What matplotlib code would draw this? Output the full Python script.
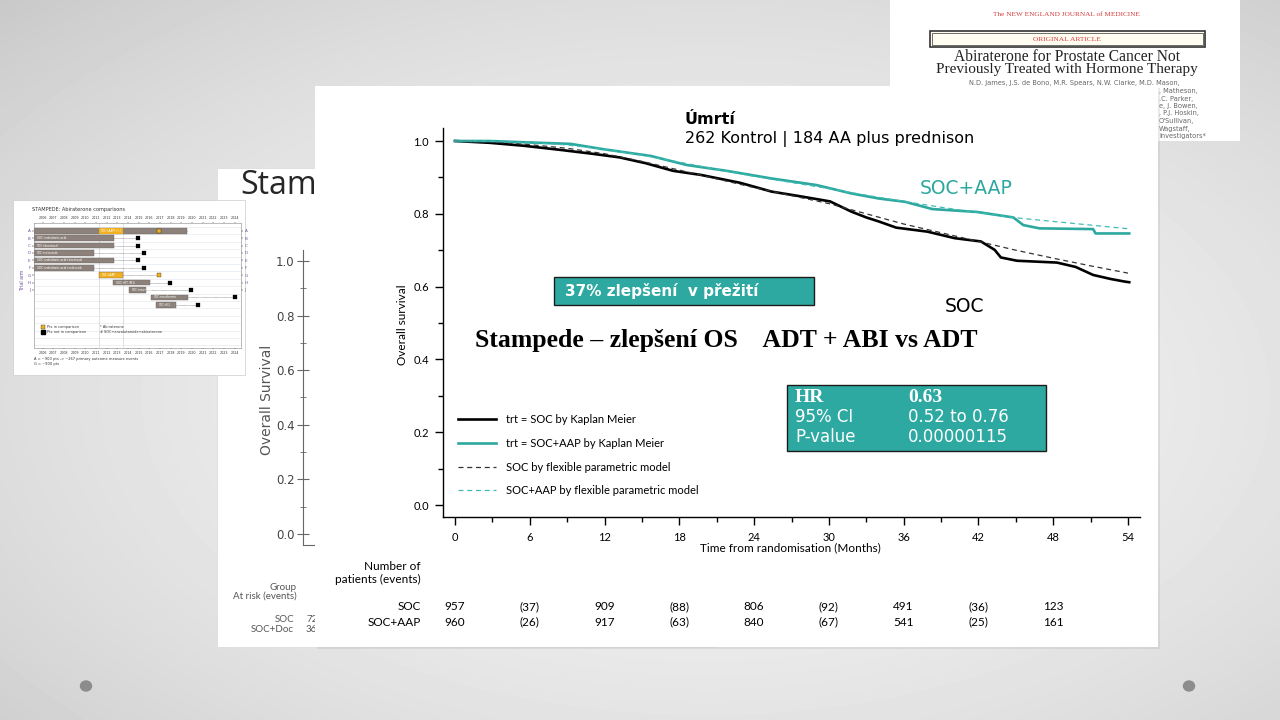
import numpy as np
import matplotlib.pyplot as plt
from matplotlib import patches
from matplotlib.ticker import MultipleLocator, FixedLocator
from matplotlib.transforms import blended_transform_factory

# ---- values ----
# Kaplan-Meier, SOC (black)
soc_t = [0, 2.8, 5.5, 8.6, 11.0, 13.2, 15.3, 17.5, 19.7, 22.9, 25.4, 27.9, 30.1,
         31.8, 33.0, 34.0, 35.4, 37.9, 40.1, 42.2, 43.3, 43.8, 45.1, 48.3, 49.8,
         51.2, 52.6, 53.7, 54.1]
soc_s = [1.0, 0.995, 0.987, 0.975, 0.965, 0.955, 0.939, 0.918, 0.907, 0.885, 0.861,
         0.847, 0.834, 0.806, 0.790, 0.779, 0.762, 0.751, 0.733, 0.724, 0.701, 0.680,
         0.671, 0.666, 0.654, 0.632, 0.621, 0.614, 0.612]
# Kaplan-Meier, SOC+AAP (teal)
aap_t = [0, 2.8, 6.0, 9.3, 11.8, 15.7, 18.6, 21.8, 25.4, 29.0, 31.8, 34.0, 36.1,
         38.3, 41.9, 44.8, 45.6, 46.9, 51.2, 51.4, 54.1]
aap_s = [1.0, 1.0, 0.996, 0.992, 0.978, 0.959, 0.934, 0.918, 0.897, 0.879, 0.856,
         0.842, 0.833, 0.813, 0.805, 0.790, 0.769, 0.760, 0.758, 0.746, 0.746]
# flexible parametric models (dashed)
fpm_t = [0, 3, 6, 9, 12, 15, 18, 21, 24, 27, 30, 33, 36, 39, 42, 45, 48, 51, 54]
fpm_soc = [1.0, 0.997, 0.990, 0.980, 0.965, 0.944, 0.920, 0.896, 0.872, 0.850, 0.828,
           0.800, 0.772, 0.748, 0.724, 0.700, 0.678, 0.657, 0.637]
fpm_aap = [1.0, 0.999, 0.996, 0.989, 0.977, 0.961, 0.942, 0.922, 0.903, 0.886, 0.869,
           0.851, 0.834, 0.818, 0.803, 0.789, 0.779, 0.769, 0.759]

risk_months = [0, 6, 12, 18, 24, 30, 36, 42, 48]
risk_soc = ['957', '(37)', '909', '(88)', '806', '(92)', '491', '(36)', '123']
risk_aap = ['960', '(26)', '917', '(63)', '840', '(67)', '541', '(25)', '161']

legend_labels = ['trt = SOC by Kaplan Meier', 'trt = SOC+AAP by Kaplan Meier',
                 'SOC by flexible parametric model', 'SOC+AAP by flexible parametric model']

hr_rows = [('HR', '0.63'), ('95% CI', '0.52 to 0.76'), ('P-value', '0.00000115')]

# small STAMPEDE overview chart (years)
gantt_rows = ['A', 'B', 'C', 'D', 'E', 'F', 'G', 'H', 'J', '', '']
gantt_start = [2005.2, 2005.2, 2005.2, 2005.2, 2005.2, 2005.2, 2011.3, 2012.6, 2014.1, 2016.2, 2016.6]
gantt_end = [2019.5, 2012.7, 2012.7, 2010.8, 2012.7, 2010.8, 2013.5, 2016.1, 2015.7, 2019.6, 2018.5]
gantt_report = [2016.9, 2014.9, 2014.9, 2015.5, 2014.9, 2015.5, 2016.9, 2017.9, 2019.9, 2024.0, 2020.6]
gantt_orange = [True, False, False, False, False, False, True, False, False, False, False]
gantt_label = ['SOC+AAP(+/-)', 'SOC+zoledronic acid', 'SOC+docetaxel', 'SOC+celecoxib',
               'SOC+zoledronic acid+docetaxel', 'SOC+zoledronic acid+celecoxib', 'SOC+AAP',
               'SOC+RT (M1)', 'SOC+enz+AAP', 'SOC+metformin', 'SOC+E2']
gantt_years = list(range(2006, 2025))

back_ticks = [0.0, 0.2, 0.4, 0.6, 0.8, 1.0]

TEAL = '#2ca89f'
BOX = '#2da9a1'
W, H = 1280, 720


def rect(x0, y0, x1, y1):
    return [x0 / W, 1 - y1 / H, (x1 - x0) / W, (y1 - y0) / H]


def pixel_axes(z):
    a = fig.add_axes([0, 0, 1, 1], zorder=z)
    a.set_xlim(0, W)
    a.set_ylim(H, 0)
    a.set_facecolor('none')
    a.axis('off')
    return a


fig = plt.figure(figsize=(12.8, 7.2), dpi=100)

# ---- background layer ----
bg = pixel_axes(0)
yy, xx = np.mgrid[0:H:4, 0:W:4]
r2 = ((xx - W * 0.55) / W) ** 2 + ((yy - H * 0.55) / H) ** 2
bg.imshow(0.945 - 0.26 * r2, cmap='gray', vmin=0, vmax=1, extent=(0, W, H, 0),
          aspect='auto', zorder=0, interpolation='bilinear')
for cx in (86, 1189):
    bg.add_patch(patches.Ellipse((cx, 686), 11, 10, color='#8c8c8c', zorder=1))

# NEJM header card
bg.add_patch(patches.Rectangle((890, 0), 350, 141, facecolor='white', edgecolor='none', zorder=1))
bg.text(1066, 14, 'The NEW ENGLAND JOURNAL of MEDICINE', color='#d23a3a', fontsize=5.2,
        family='Liberation Serif', ha='center', va='center', zorder=2)
bg.add_patch(patches.Rectangle((930, 31), 275, 16, facecolor='#fffdf2', edgecolor='#333333',
                               lw=1.2, zorder=2))
bg.add_patch(patches.Rectangle((932, 33), 271, 12, facecolor='none', edgecolor='#333333',
                               lw=0.5, zorder=2))
bg.text(1067, 39.5, 'ORIGINAL ARTICLE', color='#d23a3a', fontsize=5.4, family='Liberation Serif',
        ha='center', va='center', zorder=3)
bg.text(1067, 57, 'Abiraterone for Prostate Cancer Not', fontsize=11.2, family='Liberation Serif',
        color='#222222', ha='center', va='center', zorder=2)
bg.text(1067, 70, 'Previously Treated with Hormone Therapy', fontsize=11,
        family='Liberation Serif', color='#222222', ha='center', va='center', zorder=2)
bg.text(1074, 83, 'N.D. James, J.S. de Bono, M.R. Spears, N.W. Clarke, M.D. Mason,',
        fontsize=4.8, color='#666666', ha='center', va='center', zorder=2)
for i, s in enumerate([', Matheson,', '.C. Parker,', 'e, J. Bowen,', ', P.J. Hoskin,',
                       "O'Sullivan,", 'Wagstaff,', 'Investigators*']):
    bg.text(1159, 91 + 7.5 * i, s, fontsize=4.8, color='#666666', ha='left', va='center', zorder=2)

# background "Stampede" slide
bg.add_patch(patches.Rectangle((217, 168), 500, 479, facecolor='white', edgecolor='#dddddd',
                               lw=0.6, zorder=1))
bg.text(240, 186, 'Stampede', fontsize=23, family='Open Sans', color='#262626',
        ha='left', va='center', zorder=2)
bg.text(267, 400, 'Overall Survival', fontsize=10, color='#555555', rotation=90,
        ha='center', va='center', zorder=2)
bg.text(297, 587, 'Group', fontsize=7, family='Lato', color='#555555', ha='right', va='center', zorder=2)
bg.text(297, 596, 'At risk (events)', fontsize=7, family='Lato', color='#555555', ha='right',
        va='center', zorder=2)
bg.text(294, 620, 'SOC', fontsize=7, family='Lato', color='#555555', ha='right', va='center', zorder=2)
bg.text(294, 630, 'SOC+Doc', fontsize=7, family='Lato', color='#555555', ha='right', va='center', zorder=2)
bg.text(306, 620, '72', fontsize=7, family='Lato', color='#555555', ha='left', va='center', zorder=2)
bg.text(306, 630, '36', fontsize=7, family='Lato', color='#555555', ha='left', va='center', zorder=2)

# small overview image card
bg.add_patch(patches.Rectangle((13, 200), 232, 175, facecolor='white', edgecolor='#cccccc',
                               lw=0.5, zorder=3))
bg.text(32, 209, 'STAMPEDE: Abiraterone comparisons', fontsize=3.6, color='#333333',
        ha='left', va='center', zorder=4)
bg.text(22, 280, 'Trial arm', fontsize=3.4, color='#7050a0', rotation=90, ha='center',
        va='center', zorder=4)
bg.text(34, 359, 'A = ~900 pts -> ~267 primary outcome measure events', fontsize=2.6,
        color='#333333', va='center', zorder=4)
bg.text(34, 364, 'G = ~900 pts', fontsize=2.6, color='#333333', va='center', zorder=4)

# back slide KM axis (mostly hidden)
bk = fig.add_axes(rect(303, 250, 700, 545), zorder=1)
bk.set_facecolor('none')
bk.set_xlim(0, 1)
bk.set_ylim(-0.04, 1.04)
bk.spines[['top', 'right']].set_visible(False)
bk.spines[['left', 'bottom']].set_color('#666666')
bk.yaxis.set_major_locator(FixedLocator(back_ticks))
bk.yaxis.set_minor_locator(MultipleLocator(0.1))
bk.set_yticklabels([f'{v:.1f}' for v in back_ticks])
bk.tick_params(axis='y', which='both', direction='inout', length=8, colors='#666666',
               labelsize=8.5, labelcolor='#444444', pad=2)
bk.tick_params(axis='y', which='minor', length=5)
bk.set_xticks([])

# overview gantt
gt = fig.add_axes(rect(34, 223, 241, 348), zorder=2)
gt.set_facecolor('white')
gt.set_xlim(2005.2, 2024.6)
gt.set_ylim(15.85, -1.05)
rows = np.arange(len(gantt_rows))
for yv in np.arange(-0.5, 15.9, 1.0):
    gt.axhline(yv, color='#dfe6ee', lw=0.4, zorder=0)
for xv in (2011.3, 2013.5):
    gt.axvline(xv, color='#999999', lw=0.4, ls=(0, (1, 1)), zorder=1)
for i in rows:
    col = '#f0b020' if (gantt_orange[i] and i != 0) else '#8d827b'
    gt.barh(i, gantt_end[i] - gantt_start[i], left=gantt_start[i], height=0.75,
            color=col, edgecolor='#6f665f', lw=0.3, zorder=2)
    if i == 0:
        gt.barh(i, 2.2, left=2011.3, height=0.75, color='#f0b020', zorder=3)
    gt.plot([gantt_end[i], gantt_report[i]], [i, i], color='#555555', lw=0.4,
            ls=(0, (1, 1)), zorder=1)
    gt.plot(gantt_report[i], i, marker='s', ms=2.6, color='#f0b020' if gantt_orange[i] else 'black',
            mec='black', mew=0.2, zorder=4)
    lx = 2011.5 if i == 0 else gantt_start[i] + 0.25
    gt.text(lx, i, gantt_label[i], fontsize=2.1, color='white', va='center', ha='left', zorder=5)
# legend inside the overview chart
gt.plot(2006.0, 13.0, marker='s', ms=2.4, color='#f0b020', mec='black', mew=0.2)
gt.plot(2006.0, 13.7, marker='s', ms=2.4, color='black')
gt.text(2006.4, 13.0, 'Pts in comparison', fontsize=2.5, color='#333333', va='center')
gt.text(2006.4, 13.7, 'Pts not in comparison', fontsize=2.5, color='#333333', va='center')
gt.text(2011.4, 13.0, '* Abiraterone', fontsize=2.5, color='#333333', va='center')
gt.text(2011.4, 13.7, '# SOC+enzalutamide+abiraterone', fontsize=2.5, color='#333333', va='center')
gt.set_yticks(rows[:9])
gt.set_yticklabels(gantt_rows[:9])
gt.set_xticks(gantt_years)
gt.set_xticklabels([str(y) for y in gantt_years])
gt.tick_params(axis='y', labelsize=3, labelcolor='#7050a0', length=1.5, width=0.3, pad=1,
               labelright=True, right=True)
gt.tick_params(axis='x', labelsize=2.4, labelcolor='#333333', length=1, width=0.3, pad=1,
               labeltop=True, top=True)
for s in gt.spines.values():
    s.set_linewidth(0.4)
    s.set_color('#888888')

# ---- main slide card ----
ov = pixel_axes(3)
ov.add_patch(patches.Rectangle((317, 88), 843, 561, facecolor='#b8b8b8', edgecolor='none',
                               alpha=0.3, zorder=0))
ov.add_patch(patches.Rectangle((315, 86), 843, 561, facecolor='white', edgecolor='none', zorder=1))

ov.text(685, 119, 'Úmrtí', fontsize=11.5, fontweight='bold', color='black', va='center', zorder=3)
ov.text(685, 139, '262 Kontrol | 184 AA plus prednison', fontsize=11.5, color='black',
        va='center', zorder=3)
ov.text(920, 188, 'SOC+AAP', fontsize=13.5, color=TEAL, va='center', zorder=3)
ov.text(945, 307, 'SOC', fontsize=13.5, color='black', va='center', zorder=3)

ov.add_patch(patches.Rectangle((554, 277), 260, 28, facecolor=BOX, edgecolor='#1c1c1c', lw=1, zorder=2))
ov.text(565, 291, '37% zlepšení  v přežití', fontsize=11, fontweight='bold', color='white',
        va='center', zorder=3)
ov.text(475, 341, 'Stampede – zlepšení OS    ADT + ABI vs ADT', fontsize=18.5,
        family='Liberation Serif', fontweight='bold', color='black', va='center', zorder=3)

ov.add_patch(patches.Rectangle((787, 385), 259, 66, facecolor=BOX, edgecolor='#1c1c1c', lw=1, zorder=2))
for i, (k, v) in enumerate(hr_rows):
    yv = 398 + 19.5 * i
    if i == 0:
        ov.text(795, yv, k, fontsize=14, family='Liberation Serif', fontweight='bold',
                color='white', va='center', zorder=3)
        ov.text(908, yv, v, fontsize=14, family='Liberation Serif', fontweight='bold',
                color='white', va='center', zorder=3)
    else:
        ov.text(795, yv, k, fontsize=12, color='white', va='center', zorder=3)
        ov.text(908, yv, v, fontsize=12, color='white', va='center', zorder=3)

# ---- main KM axes ----
km = fig.add_axes(rect(443, 128, 1140, 517), zorder=4)
km.set_facecolor('none')
px_per_month = (1128 - 455) / 54.0
km.set_xlim(-12 / px_per_month, 54 + 12 / px_per_month)
km.set_ylim(-12 / 364.0, 1 + 13 / 364.0)
l1, = km.plot(soc_t, soc_s, color='black', lw=1.9, zorder=4)
l2, = km.plot(aap_t, aap_s, color=TEAL, lw=1.9, zorder=4)
l3, = km.plot(fpm_t, fpm_soc, color='#333333', lw=0.9, ls=(0, (4, 3)), zorder=5)
l4, = km.plot(fpm_t, fpm_aap, color='#3fbdb5', lw=0.9, ls=(0, (4, 3)), zorder=5)
km.spines[['top', 'right']].set_visible(False)
km.spines[['left', 'bottom']].set_linewidth(1.0)
km.xaxis.set_major_locator(MultipleLocator(6))
km.xaxis.set_minor_locator(MultipleLocator(3))
km.yaxis.set_major_locator(MultipleLocator(0.2))
km.yaxis.set_minor_locator(MultipleLocator(0.1))
km.set_xticks(list(range(0, 55, 6)))
km.set_yticks([0.0, 0.2, 0.4, 0.6, 0.8, 1.0])
km.set_yticklabels(['0.0', '0.2', '0.4', '0.6', '0.8', '1.0'])
km.tick_params(axis='both', which='major', length=6, width=1, labelsize=8,
               direction='out')
km.tick_params(axis='both', which='minor', length=3.5, width=1, direction='out')
km.tick_params(axis='x', pad=5)
km.tick_params(axis='y', pad=4)
for lab in km.get_xticklabels() + km.get_yticklabels():
    lab.set_family('Lato')

leg = km.legend([l1, l2, l3, l4], legend_labels, loc='upper left', frameon=False,
                bbox_to_anchor=(458, 414), bbox_transform=ov.transData,
                prop={'family': 'Lato', 'size': 8}, handlelength=3.4, handletextpad=0.9,
                labelspacing=1.15, borderpad=0, borderaxespad=0)

ov.text(790, 548, 'Time from randomisation (Months)', fontsize=8.5, family='Lato',
        ha='center', va='center', zorder=3)
ov.text(403, 325, 'Overall survival', fontsize=8.5, family='Lato', rotation=90,
        ha='center', va='center', zorder=3)

# number at risk
tr = blended_transform_factory(km.transData, ov.transData)
ov.text(421, 566, 'Number of', fontsize=8.5, family='Lato', ha='right', va='center', zorder=3)
ov.text(421, 579, 'patients (events)', fontsize=8.5, family='Lato', ha='right', va='center', zorder=3)
ov.text(421, 607, 'SOC', fontsize=8.5, family='Lato', ha='right', va='center', zorder=3)
ov.text(421, 622, 'SOC+AAP', fontsize=8.5, family='Lato', ha='right', va='center', zorder=3)
for m, a, b in zip(risk_months, risk_soc, risk_aap):
    km.text(m, 607, a, transform=tr, fontsize=8.5, family='Lato', ha='center', va='center',
            clip_on=False)
    km.text(m, 622, b, transform=tr, fontsize=8.5, family='Lato', ha='center', va='center',
            clip_on=False)

fig.savefig('out.png', dpi=100)
